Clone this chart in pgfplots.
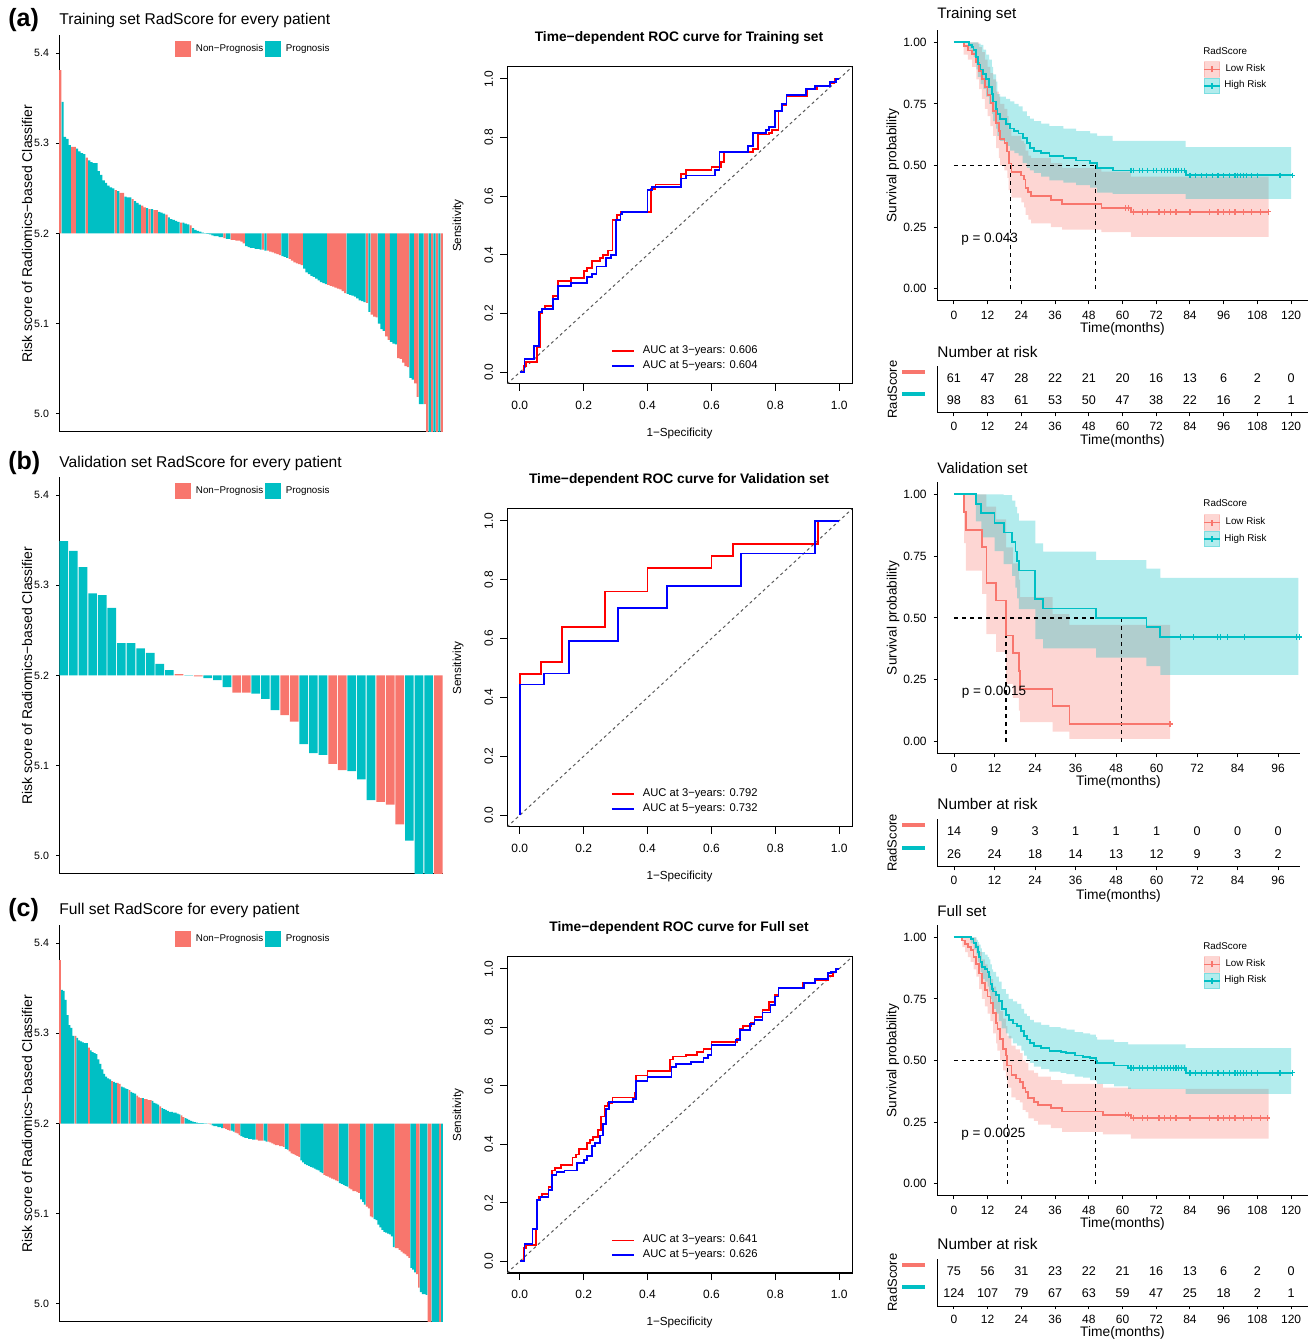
\documentclass[border=0pt]{standalone}
\usepackage{fontspec}
\setmainfont{Liberation Sans}
\usepackage{pgfplots}
\pgfplotsset{compat=1.18}
\usepackage{pgfplotstable}
\usepgfplotslibrary{fillbetween}

\definecolor{kmred}{HTML}{F8766D}
\definecolor{kmteal}{HTML}{00BFC4}
\newcommand{\fs}[1]{\fontsize{#1}{#1}\selectfont}

% ---------- waterfall data: index, score, class (0 non-prognosis, 1 prognosis)
\pgfplotstableread[row sep=\\]{i v c\\
1 5.381 0\\2 5.346 1\\3 5.307 1\\4 5.305 1\\5 5.298 1\\6 5.296 0\\7 5.296 0\\8 5.294 1\\9 5.291 1\\10 5.289 1\\
11 5.288 1\\12 5.284 0\\13 5.281 1\\14 5.279 1\\15 5.278 1\\16 5.278 1\\17 5.269 1\\18 5.265 1\\19 5.259 1\\20 5.256 1\\
21 5.253 1\\22 5.251 1\\23 5.250 1\\24 5.248 0\\25 5.247 1\\26 5.245 0\\27 5.245 0\\28 5.241 1\\29 5.240 1\\30 5.240 1\\
31 5.238 0\\32 5.236 1\\33 5.234 1\\34 5.232 1\\35 5.231 0\\36 5.229 0\\37 5.228 1\\38 5.227 0\\39 5.227 1\\40 5.226 0\\
41 5.226 0\\42 5.224 1\\43 5.223 1\\44 5.222 1\\45 5.221 0\\46 5.218 1\\47 5.216 1\\48 5.215 1\\49 5.214 1\\50 5.213 1\\
51 5.212 0\\52 5.212 1\\53 5.211 1\\54 5.210 1\\55 5.209 0\\56 5.206 1\\57 5.204 1\\58 5.203 1\\59 5.202 1\\60 5.201 1\\
61 5.2005 1\\62 5.1995 1\\63 5.199 1\\64 5.198 1\\65 5.197 1\\66 5.197 1\\67 5.196 1\\68 5.196 1\\69 5.195 0\\70 5.194 1\\
71 5.194 1\\72 5.193 0\\73 5.193 0\\74 5.192 0\\75 5.192 0\\76 5.191 0\\77 5.189 0\\78 5.186 1\\79 5.185 1\\80 5.184 1\\
81 5.184 1\\82 5.183 1\\83 5.183 1\\84 5.182 1\\85 5.182 0\\86 5.181 1\\87 5.181 0\\88 5.180 0\\89 5.179 0\\90 5.178 0\\
91 5.177 0\\92 5.176 0\\93 5.175 1\\94 5.174 1\\95 5.173 1\\96 5.172 0\\97 5.170 0\\98 5.168 0\\99 5.167 0\\100 5.166 0\\
101 5.165 0\\102 5.161 1\\103 5.157 1\\104 5.155 1\\105 5.153 1\\106 5.152 1\\107 5.150 1\\108 5.148 1\\109 5.146 1\\110 5.145 1\\
111 5.144 1\\112 5.143 0\\113 5.142 0\\114 5.141 0\\115 5.140 0\\116 5.139 0\\117 5.138 0\\118 5.136 0\\119 5.134 0\\120 5.133 1\\
121 5.132 1\\122 5.131 1\\123 5.130 1\\124 5.128 1\\125 5.126 1\\126 5.125 1\\127 5.124 1\\128 5.123 0\\129 5.113 1\\130 5.110 0\\
131 5.108 0\\132 5.107 0\\133 5.100 1\\134 5.094 1\\135 5.092 1\\136 5.086 0\\137 5.082 0\\138 5.080 1\\139 5.078 1\\140 5.077 1\\
141 5.062 0\\142 5.061 0\\143 5.057 0\\144 5.053 0\\145 5.052 0\\146 5.040 1\\147 5.038 1\\148 5.034 0\\149 5.019 0\\150 5.011 1\\
151 5.011 1\\152 5.011 0\\153 4.95 0\\154 4.95 1\\155 4.94 0\\156 4.94 1\\157 4.93 0\\158 4.93 1\\159 4.92 0\\
}\wfa

\pgfplotstableread[row sep=\\]{i v c\\
1 5.349 1\\2 5.338 1\\3 5.320 1\\4 5.291 1\\5 5.289 1\\6 5.275 1\\7 5.236 1\\8 5.236 1\\9 5.230 1\\10 5.225 1\\
11 5.213 1\\12 5.206 1\\13 5.2015 0\\14 5.2004 1\\15 5.199 0\\16 5.197 1\\17 5.195 1\\18 5.187 1\\19 5.181 0\\20 5.181 0\\
21 5.180 1\\22 5.174 1\\23 5.1615 1\\24 5.156 0\\25 5.149 0\\26 5.124 1\\27 5.114 1\\28 5.112 1\\29 5.102 0\\30 5.095 0\\
31 5.094 1\\32 5.085 1\\33 5.062 1\\34 5.060 0\\35 5.057 0\\36 5.035 0\\37 5.017 1\\38 4.95 1\\39 4.94 1\\40 4.93 0\\
}\wfb

\pgfplotstableread[row sep=\\]{i v c\\
1 5.381 0\\2 5.348 1\\3 5.347 1\\4 5.337 1\\5 5.320 1\\6 5.309 1\\7 5.306 1\\8 5.297 1\\9 5.297 0\\10 5.295 1\\
11 5.292 1\\12 5.291 1\\13 5.290 1\\14 5.289 1\\15 5.289 1\\16 5.284 0\\17 5.281 1\\18 5.279 1\\19 5.278 1\\20 5.277 1\\
21 5.271 1\\22 5.266 1\\23 5.260 1\\24 5.255 1\\25 5.252 1\\26 5.250 1\\27 5.249 1\\28 5.247 0\\29 5.246 1\\30 5.245 1\\
31 5.245 0\\32 5.244 0\\33 5.241 1\\34 5.240 1\\35 5.239 1\\36 5.238 1\\37 5.237 0\\38 5.235 1\\39 5.234 1\\40 5.233 1\\
41 5.231 0\\42 5.229 0\\43 5.228 0\\44 5.228 1\\45 5.227 0\\46 5.227 0\\47 5.226 0\\48 5.226 0\\49 5.225 1\\50 5.223 1\\
51 5.222 1\\52 5.221 1\\53 5.219 0\\54 5.217 1\\55 5.216 1\\56 5.215 1\\57 5.214 1\\58 5.213 1\\59 5.213 1\\60 5.212 1\\
61 5.212 1\\62 5.211 1\\63 5.210 1\\64 5.209 0\\65 5.207 0\\66 5.206 1\\67 5.205 1\\68 5.204 1\\69 5.203 1\\70 5.202 1\\
71 5.2015 1\\72 5.201 1\\73 5.2005 1\\74 5.2004 1\\75 5.2003 1\\76 5.2002 1\\77 5.2001 1\\78 5.1995 0\\79 5.199 0\\80 5.198 1\\
81 5.197 1\\82 5.197 1\\83 5.196 1\\84 5.196 1\\85 5.195 1\\86 5.195 0\\87 5.194 0\\88 5.193 0\\89 5.192 0\\90 5.192 1\\
91 5.191 1\\92 5.190 0\\93 5.189 0\\94 5.187 0\\95 5.186 1\\96 5.185 1\\97 5.184 1\\98 5.184 1\\99 5.183 1\\100 5.183 1\\
101 5.182 1\\102 5.182 1\\103 5.182 0\\104 5.181 0\\105 5.181 0\\106 5.181 0\\107 5.181 1\\108 5.180 1\\109 5.180 0\\110 5.179 0\\
111 5.178 0\\112 5.177 0\\113 5.176 0\\114 5.176 0\\115 5.175 0\\116 5.175 0\\117 5.174 0\\118 5.172 1\\119 5.171 1\\120 5.169 0\\
121 5.167 0\\122 5.166 0\\123 5.165 0\\124 5.164 0\\125 5.163 0\\126 5.159 1\\127 5.157 1\\128 5.155 1\\129 5.154 1\\130 5.153 1\\
131 5.152 1\\132 5.151 1\\133 5.150 1\\134 5.149 1\\135 5.148 1\\136 5.146 1\\137 5.145 1\\138 5.143 0\\139 5.142 0\\140 5.141 0\\
141 5.140 0\\142 5.139 0\\143 5.138 0\\144 5.137 0\\145 5.136 0\\146 5.134 1\\147 5.133 1\\148 5.132 1\\149 5.131 1\\150 5.130 1\\
151 5.128 0\\152 5.127 0\\153 5.125 0\\154 5.125 0\\155 5.124 0\\156 5.123 0\\157 5.116 1\\158 5.113 1\\159 5.110 1\\160 5.108 0\\
161 5.106 0\\162 5.097 0\\163 5.096 0\\164 5.094 1\\165 5.093 1\\166 5.088 1\\167 5.085 1\\168 5.082 1\\169 5.080 1\\170 5.079 1\\
171 5.078 1\\172 5.077 1\\173 5.075 1\\174 5.063 1\\175 5.062 0\\176 5.062 0\\177 5.060 0\\178 5.058 0\\179 5.056 0\\180 5.055 0\\
181 5.053 0\\182 5.051 0\\183 5.040 1\\184 5.038 1\\185 5.035 1\\186 5.033 0\\187 5.018 0\\188 5.013 1\\189 5.011 1\\190 5.011 1\\
191 5.010 1\\192 4.95 0\\193 4.95 0\\194 4.94 1\\195 4.94 1\\196 4.93 1\\197 4.93 1\\198 4.92 0\\199 4.92 1\\
}\wfc

% ---------- Kaplan-Meier: time, survival, lower, upper
\pgfplotstableread[row sep=\\]{t s lo hi\\
0 1 1 1\\3.5 0.984 0.95 1\\5 0.967 0.93 1\\6.5 0.951 0.90 1\\8 0.918 0.85 1\\9 0.885 0.81 0.98\\
10 0.852 0.77 0.96\\11 0.820 0.73 0.93\\12 0.787 0.70 0.90\\13 0.754 0.66 0.875\\14 0.721 0.62 0.85\\
15 0.672 0.57 0.80\\16 0.639 0.53 0.78\\16.5 0.607 0.50 0.75\\18 0.590 0.48 0.73\\19 0.557 0.45 0.70\\
19.5 0.508 0.40 0.65\\20.5 0.475 0.37 0.62\\24 0.459 0.35 0.60\\25 0.443 0.33 0.59\\25.5 0.410 0.30 0.56\\
26.5 0.393 0.28 0.54\\27.5 0.377 0.265 0.53\\34.5 0.361 0.25 0.51\\38.5 0.344 0.24 0.49\\52.5 0.328 0.23 0.475\\
63 0.312 0.21 0.455\\112 0.312 0.21 0.455\\
}\kmaL
\pgfplotstableread[row sep=\\]{t s lo hi\\
0 1 1 1\\5.5 0.99 0.97 1\\6.5 0.98 0.95 1\\7 0.97 0.94 1\\8 0.94 0.89 1\\8.5 0.91 0.86 0.995\\
9.5 0.89 0.83 0.99\\10.5 0.87 0.81 0.97\\11.5 0.85 0.78 0.95\\12.5 0.82 0.75 0.93\\13.5 0.79 0.71 0.90\\
14 0.76 0.68 0.87\\15 0.73 0.65 0.84\\15.5 0.71 0.62 0.79\\16.5 0.69 0.60 0.78\\18.5 0.67 0.58 0.77\\
20 0.65 0.56 0.76\\21.5 0.64 0.55 0.75\\23 0.63 0.54 0.74\\24.5 0.61 0.51 0.72\\26 0.59 0.49 0.70\\
27 0.57 0.48 0.69\\28.5 0.56 0.47 0.68\\31 0.55 0.455 0.67\\34 0.54 0.44 0.66\\39 0.53 0.43 0.65\\
43.5 0.52 0.42 0.64\\48.5 0.51 0.41 0.63\\51 0.49 0.39 0.62\\56.5 0.48 0.385 0.60\\82.5 0.46 0.365 0.575\\
120 0.46 0.365 0.575\\
}\kmaH
\pgfplotstableread[row sep=\\]{t s lo hi\\
0 1 1 1\\3 0.929 0.803 1\\3.5 0.857 0.692 1\\8.3 0.786 0.598 1\\9.6 0.643 0.435 0.95\\
12.5 0.571 0.363 0.899\\15.4 0.429 0.234 0.786\\17.4 0.357 0.177 0.721\\19.2 0.286 0.125 0.655\\
19.6 0.214 0.079 0.584\\29.2 0.143 0.040 0.516\\34.2 0.071 0.011 0.472\\64 0.071 0.011 0.472\\
}\kmbL
\pgfplotstableread[row sep=\\]{t s lo hi\\
0 1 1 1\\6.5 0.962 0.891 1\\8.1 0.923 0.826 1\\12 0.885 0.770 1\\14.7 0.846 0.718 0.997\\
17.2 0.808 0.670 0.975\\18.2 0.769 0.623 0.949\\18.7 0.731 0.579 0.923\\19.2 0.692 0.536 0.894\\
24.1 0.577 0.415 0.802\\26.4 0.538 0.377 0.768\\42.1 0.500 0.340 0.734\\57 0.462 0.305 0.700\\
61.1 0.423 0.270 0.662\\102 0.423 0.270 0.662\\
}\kmbH
\pgfplotstableread[row sep=\\]{t s lo hi\\
0 1 1 1\\3 0.987 0.96 1\\4 0.973 0.94 1\\5 0.960 0.92 1\\6 0.947 0.90 1\\7 0.920 0.87 1\\
8 0.893 0.84 0.97\\9 0.853 0.79 0.94\\10 0.813 0.75 0.91\\11 0.787 0.72 0.89\\12 0.760 0.69 0.86\\
13 0.733 0.66 0.83\\14 0.693 0.61 0.80\\15 0.653 0.57 0.76\\15.5 0.627 0.54 0.74\\16.5 0.587 0.50 0.70\\
17.5 0.547 0.46 0.67\\18.5 0.520 0.43 0.64\\19 0.480 0.39 0.60\\20.5 0.440 0.35 0.56\\22 0.427 0.34 0.545\\
23.5 0.413 0.33 0.53\\24.5 0.387 0.30 0.50\\25.5 0.373 0.29 0.49\\26.5 0.347 0.265 0.46\\28.5 0.333 0.255 0.45\\
30 0.320 0.24 0.435\\34.5 0.307 0.225 0.42\\38.5 0.293 0.21 0.405\\53 0.280 0.20 0.39\\63 0.267 0.183 0.385\\
112 0.267 0.183 0.385\\
}\kmcL
\pgfplotstableread[row sep=\\]{t s lo hi\\
0 1 1 1\\6 0.992 0.975 1\\7 0.976 0.95 1\\8 0.960 0.93 0.99\\8.5 0.940 0.90 0.98\\9 0.920 0.88 0.97\\
9.5 0.900 0.86 0.955\\10 0.880 0.83 0.94\\11 0.870 0.82 0.93\\12 0.860 0.80 0.92\\12.5 0.840 0.78 0.91\\
13 0.810 0.75 0.89\\13.5 0.790 0.73 0.87\\14 0.780 0.71 0.86\\15 0.765 0.69 0.84\\16 0.740 0.66 0.82\\
17 0.710 0.63 0.79\\18.5 0.685 0.61 0.77\\19.5 0.665 0.59 0.75\\21 0.650 0.57 0.74\\22.5 0.640 0.56 0.73\\
24 0.620 0.54 0.71\\25 0.600 0.52 0.69\\26 0.585 0.505 0.68\\27 0.570 0.49 0.665\\28.5 0.560 0.475 0.655\\
31 0.550 0.465 0.645\\34 0.540 0.455 0.635\\38 0.535 0.45 0.63\\40 0.530 0.445 0.625\\43 0.520 0.435 0.615\\
46 0.515 0.43 0.61\\48.5 0.510 0.42 0.605\\50.5 0.500 0.415 0.595\\51 0.490 0.405 0.585\\57 0.480 0.395 0.575\\
62 0.470 0.385 0.565\\82.5 0.450 0.365 0.55\\120 0.450 0.365 0.55\\
}\kmcH

\pgfplotsset{
  mybase/.style={scale only axis, /pgf/number format/assume math mode=true,
    tick align=outside, axis line style={line width=0.5pt},
    tick style={line width=0.5pt, black}},
  onedec/.style={/pgf/number format/fixed, /pgf/number format/fixed zerofill,
    /pgf/number format/precision=1},
  wf/.style={mybase, width=192pt, height=198.5pt,
    axis x line*=bottom, axis y line*=left, xtick=\empty,
    ymin=4.98, ymax=5.42,
    y coord trafo/.code={\pgfmathparse{##1-5.2}},
    y coord inv trafo/.code={\pgfmathparse{##1+5.2}},
    ytick={5.0,5.1,5.2,5.3,5.4}, scaled y ticks=false,
    yticklabel style={font=\fs{5.3}, onedec},
    major tick length=1.5pt,
    ylabel={Risk score of Radiomics−based Classifier},
    every axis y label/.style={at={(rel axis cs:-0.083,0.5)}, rotate=90, anchor=center, font=\fs{7}},
    legend style={at={(0.302,0.985)}, anchor=north west, draw=none, fill=none,
      inner sep=0pt, legend columns=2, font=\fs{4.9}, nodes={inner sep=1pt},
      /tikz/every odd column/.append style={column sep=1.5pt}}},
  roc/.style={mybase, width=172.5pt, xmin=-0.04, xmax=1.04, ymin=-0.04, ymax=1.04,
    xtick={0,0.2,0.4,0.6,0.8,1}, ytick={0,0.2,0.4,0.6,0.8,1}, tick pos=left,
    major tick length=3.5pt,
    tick label style={font=\fs{6}, onedec},
    xticklabel style={yshift=-1.5pt},
    yticklabel style={rotate=90, anchor=south},
    xlabel={1−Specificity}, ylabel={Sensitivity},
    every axis x label/.style={at={(rel axis cs:0.5,-0.157)}, anchor=center, font=\fs{5.85}},
    every axis y label/.style={at={(rel axis cs:-0.142,0.5)}, rotate=90, anchor=center, font=\fs{5.85}},
    legend style={at={(0.30,0.125)}, anchor=north west, draw=none, fill=none,
      inner sep=0pt, font=\fs{5.6}, nodes={inner sep=0.6pt}, row sep=0.6pt,
      /tikz/every odd column/.append style={column sep=3.5pt}}},
  km/.style={mybase, axis x line*=bottom, axis y line*=left,
    ymin=-0.05, ymax=1.05, ytick={0,0.25,0.5,0.75,1},
    yticklabels={0.00,0.25,0.50,0.75,1.00}, major tick length=1.65pt,
    tick label style={font=\fs{6}},
    xlabel={Time(months)}, ylabel={Survival probability},
    every axis x label/.style={at={(rel axis cs:0.5,-0.102)}, anchor=center, font=\fs{6.9}},
    every axis y label/.style={at={(rel axis cs:-0.119,0.5)}, rotate=90, anchor=center, font=\fs{6.8}},
    legend style={at={(0.717,0.886)}, anchor=north west, draw=none, fill=none,
      inner sep=0pt, font=\fs{4.9}, nodes={inner sep=0.5pt},
      /tikz/every odd column/.append style={column sep=1.5pt}}},
  rt/.style={mybase, axis x line*=bottom, axis y line*=left,
    ymin=0.41, ymax=2.55, ytick={1,2},
    yticklabels={{\textcolor{kmteal}{\rule{11.5pt}{2pt}}},{\textcolor{kmred}{\rule{11.5pt}{2pt}}}},
    ytick style={draw=none}, major tick length=1.65pt,
    tick label style={font=\fs{6}},
    xticklabel style={yshift=0.5pt},
    yticklabel style={anchor=east, inner sep=0pt, xshift=-4pt, yshift=3pt},
    xlabel={Time(months)}, ylabel={RadScore},
    every axis x label/.style={at={(rel axis cs:0.5,-0.6)}, anchor=center, font=\fs{6.9}},
    every axis y label/.style={at={(rel axis cs:-0.121,0.5)}, rotate=90, anchor=center, font=\fs{6.5}}},
  redkey/.style={legend image code/.code={\fill[kmred] (0pt,-3.9pt) rectangle (7.8pt,3.9pt);}},
  tealkey/.style={legend image code/.code={\fill[kmteal] (0pt,-3.9pt) rectangle (7.8pt,3.9pt);}},
  rockey/.style={legend image code/.code={\draw[#1, line width=0.9pt] (0pt,0pt) -- (11pt,0pt);}},
  kmkey/.style={legend image code/.code={\fill[#1, opacity=0.3] (0pt,-3.9pt) rectangle (7.8pt,3.9pt);
      \draw[#1, line width=0.7pt] (0pt,0pt) -- (7.8pt,0pt) (3.9pt,-1.5pt) -- (3.9pt,1.5pt);}},
  band/.style={const plot, draw=none, forget plot},
  curve/.style={const plot, line width=0.9pt},
  cens/.style={only marks, mark=+, mark size=1.4pt, line width=0.6pt},
  med/.style={black, line width=0.55pt, dash pattern=on 2pt off 2pt},
}

\begin{document}
\begin{tikzpicture}

% ================= row (a)
\begin{axis}[wf, at={(29.5pt,454pt)}, anchor=south west, xmin=0.5, xmax=159.5]
\addplot[ybar, bar width=0.9, fill=kmred, draw=none, redkey,
  restrict expr to domain={\thisrow{c}}{0:0}] table[x=i, y=v] {\wfa};
\addlegendentry{Non−Prognosis}
\addplot[ybar, bar width=0.9, fill=kmteal, draw=none, tealkey,
  restrict expr to domain={\thisrow{c}}{1:1}] table[x=i, y=v] {\wfa};
\addlegendentry{Prognosis}
\end{axis}

\begin{axis}[roc, at={(253.5pt,478pt)}, anchor=south west, height=158.5pt]
\addplot[gray!70!black, line width=0.5pt, dash pattern=on 1.5pt off 1.5pt, forget plot]
  coordinates {(-0.04,-0.04) (1.04,1.04)};
\addplot[red, curve, rockey=red] coordinates {(0,0)(0.012,0.02)(0.02,0.035)(0.055,0.085)(0.065,0.2)(0.07,0.215)(0.08,0.225)(0.105,0.26)(0.12,0.31)(0.16,0.32)(0.2,0.345)(0.21,0.355)(0.225,0.38)(0.25,0.39)(0.26,0.4)(0.275,0.415)(0.29,0.52)(0.305,0.535)(0.315,0.545)(0.41,0.625)(0.425,0.64)(0.505,0.675)(0.52,0.69)(0.6,0.7)(0.63,0.715)(0.64,0.75)(0.73,0.76)(0.745,0.81)(0.78,0.815)(0.79,0.825)(0.81,0.89)(0.82,0.91)(0.835,0.94)(0.9,0.965)(0.93,0.975)(0.97,0.985)(0.985,1)(1,1)};
\addlegendentry{AUC at 3−years: 0.606}
\addplot[blue, curve, rockey=blue] coordinates {(0,0)(0.015,0.045)(0.045,0.09)(0.06,0.205)(0.07,0.215)(0.105,0.25)(0.12,0.295)(0.16,0.305)(0.21,0.325)(0.225,0.335)(0.24,0.36)(0.27,0.39)(0.285,0.4)(0.3,0.52)(0.315,0.54)(0.32,0.545)(0.4,0.62)(0.415,0.63)(0.505,0.66)(0.52,0.67)(0.61,0.69)(0.625,0.75)(0.715,0.77)(0.73,0.815)(0.77,0.825)(0.78,0.835)(0.8,0.89)(0.82,0.915)(0.835,0.945)(0.895,0.965)(0.925,0.975)(0.97,0.99)(0.99,1)(1,1)};
\addlegendentry{AUC at 5−years: 0.604}
\end{axis}

\begin{axis}[km, at={(468.5pt,519.5pt)}, anchor=south west, width=185.5pt, height=135.5pt,
  xmin=-6, xmax=126, xtick={0,12,...,120}]
\addlegendimage{kmkey=kmred}\addlegendentry{Low Risk}
\addlegendimage{kmkey=kmteal}\addlegendentry{High Risk}
\addplot[band, name path=aLh] table[x=t, y=hi] {\kmaL};
\addplot[band, name path=aLl] table[x=t, y=lo] {\kmaL};
\addplot[band, name path=aHh] table[x=t, y=hi] {\kmaH};
\addplot[band, name path=aHl] table[x=t, y=lo] {\kmaH};
\addplot[fill=kmred, fill opacity=0.3, draw=none] fill between[of=aLh and aLl];
\addplot[fill=kmteal, fill opacity=0.3, draw=none] fill between[of=aHh and aHl];
\addplot[med] coordinates {(0,0.5) (50.5,0.5)};
\addplot[med] coordinates {(20.2,0) (20.2,0.5)};
\addplot[med] coordinates {(50.5,0) (50.5,0.5)};
\addplot[kmred, curve] table[x=t, y=s] {\kmaL};
\addplot[kmteal, curve] table[x=t, y=s] {\kmaH} -- (axis cs:120.5,0.46);
\addplot[kmred, cens] coordinates {(61,0.328)(62,0.328)(64,0.312)(67,0.312)(69,0.312)(73,0.312)(75,0.312)(77,0.312)(79,0.312)(84,0.312)(91,0.312)(94,0.312)(96,0.312)(98,0.312)(100,0.312)(103,0.312)(106,0.312)(109,0.312)(112,0.312)};
\addplot[kmteal, cens] coordinates {(63,0.48)(64,0.48)(66,0.48)(67,0.48)(69,0.48)(71,0.48)(72,0.48)(74,0.48)(75,0.48)(76,0.48)(77,0.48)(78,0.48)(79,0.48)(80,0.48)(81,0.48)(82,0.48)(84,0.46)(86,0.46)(88,0.46)(90,0.46)(92,0.46)(94,0.46)(96,0.46)(98,0.46)(100,0.46)(101,0.46)(102,0.46)(103,0.46)(104,0.46)(106,0.46)(108,0.46)(116,0.46)(120.5,0.46)};
\node[anchor=west, inner sep=0pt, font=\fs{6.75}] at (axis cs:2.5,0.2) {p = 0.043};
\node[anchor=west, inner sep=0pt, font=\fs{4.9}] at (rel axis cs:0.717,0.922) {RadScore};
\end{axis}

\begin{axis}[rt, at={(468.5pt,463.5pt)}, anchor=south west, width=185.5pt, height=23.5pt,
  xmin=-6, xmax=126, xtick={0,12,...,120}]
\addplot[draw=none, mark=none, nodes near coords, point meta=explicit symbolic,
  nodes near coords style={anchor=center, font=\fs{6.3}, inner sep=0pt}]
  table[x=t, y=r, meta=n, row sep=\\] {t r n\\
  0 2 61\\12 2 47\\24 2 28\\36 2 22\\48 2 21\\60 2 20\\72 2 16\\84 2 13\\96 2 6\\108 2 2\\120 2 0\\
  0 1 98\\12 1 83\\24 1 61\\36 1 53\\48 1 50\\60 1 47\\72 1 38\\84 1 22\\96 1 16\\108 1 2\\120 1 1\\};
\end{axis}

% ================= row (b)
\begin{axis}[wf, at={(29.5pt,233pt)}, anchor=south west, xmin=0.5, xmax=40.5]
\addplot[ybar, bar width=0.9, fill=kmred, draw=none, redkey,
  restrict expr to domain={\thisrow{c}}{0:0}] table[x=i, y=v] {\wfb};
\addlegendentry{Non−Prognosis}
\addplot[ybar, bar width=0.9, fill=kmteal, draw=none, tealkey,
  restrict expr to domain={\thisrow{c}}{1:1}] table[x=i, y=v] {\wfb};
\addlegendentry{Prognosis}
\end{axis}

\begin{axis}[roc, at={(253.5pt,256.5pt)}, anchor=south west, height=159pt]
\addplot[gray!70!black, line width=0.5pt, dash pattern=on 1.5pt off 1.5pt, forget plot]
  coordinates {(-0.04,-0.04) (1.04,1.04)};
\addplot[red, curve, rockey=red] coordinates {(0,0)(0,0.48)(0.067,0.52)(0.133,0.64)(0.267,0.76)(0.4,0.84)(0.6,0.88)(0.667,0.92)(0.933,1)(1,1)};
\addlegendentry{AUC at 3−years: 0.792}
\addplot[blue, curve, rockey=blue] coordinates {(0,0)(0,0.444)(0.077,0.481)(0.154,0.593)(0.308,0.704)(0.462,0.778)(0.692,0.889)(0.923,1)(1,1)};
\addlegendentry{AUC at 5−years: 0.732}
\end{axis}

\begin{axis}[km, at={(468.5pt,293pt)}, anchor=south west, width=181.5pt, height=136pt,
  xmin=-5.04, xmax=102.5, xtick={0,12,...,96},
  every axis y label/.style={at={(rel axis cs:-0.121,0.5)}, rotate=90, anchor=center, font=\fs{6.8}},
  legend style={at={(0.733,0.882)}}]
\addlegendimage{kmkey=kmred}\addlegendentry{Low Risk}
\addlegendimage{kmkey=kmteal}\addlegendentry{High Risk}
\addplot[band, name path=bLh] table[x=t, y=hi] {\kmbL};
\addplot[band, name path=bLl] table[x=t, y=lo] {\kmbL};
\addplot[band, name path=bHh] table[x=t, y=hi] {\kmbH};
\addplot[band, name path=bHl] table[x=t, y=lo] {\kmbH};
\addplot[fill=kmred, fill opacity=0.3, draw=none] fill between[of=bLh and bLl];
\addplot[fill=kmteal, fill opacity=0.3, draw=none] fill between[of=bHh and bHl];
\addplot[med] coordinates {(0,0.5) (49.6,0.5)};
\addplot[med] coordinates {(15.4,0) (15.4,0.5)};
\addplot[med] coordinates {(49.6,0) (49.6,0.5)};
\addplot[kmred, curve] table[x=t, y=s] {\kmbL};
\addplot[kmteal, curve] table[x=t, y=s] {\kmbH} -- (axis cs:102.6,0.423);
\addplot[kmred, cens] coordinates {(64,0.071)};
\addplot[kmteal, cens] coordinates {(67,0.423)(71,0.423)(78,0.423)(79,0.423)(81,0.423)(86,0.423)(101.5,0.423)(102.3,0.423)};
\node[anchor=west, inner sep=0pt, font=\fs{6.75}] at (axis cs:2.2,0.2) {p = 0.0015};
\node[anchor=west, inner sep=0pt, font=\fs{4.9}] at (rel axis cs:0.733,0.923) {RadScore};
\end{axis}

\begin{axis}[rt, at={(468.5pt,236.5pt)}, anchor=south west, width=181.5pt, height=24pt,
  xmin=-5.04, xmax=102.5, xtick={0,12,...,96},
  every axis y label/.style={at={(rel axis cs:-0.124,0.5)}, rotate=90, anchor=center, font=\fs{6.5}}]
\addplot[draw=none, mark=none, nodes near coords, point meta=explicit symbolic,
  nodes near coords style={anchor=center, font=\fs{6.3}, inner sep=0pt}]
  table[x=t, y=r, meta=n, row sep=\\] {t r n\\
  0 2 14\\12 2 9\\24 2 3\\36 2 1\\48 2 1\\60 2 1\\72 2 0\\84 2 0\\96 2 0\\
  0 1 26\\12 1 24\\24 1 18\\36 1 14\\48 1 13\\60 1 12\\72 1 9\\84 1 3\\96 1 2\\};
\end{axis}

% ================= row (c)
\begin{axis}[wf, at={(29.5pt,9pt)}, anchor=south west, xmin=0.5, xmax=199.5]
\addplot[ybar, bar width=0.9, fill=kmred, draw=none, redkey,
  restrict expr to domain={\thisrow{c}}{0:0}] table[x=i, y=v] {\wfc};
\addlegendentry{Non−Prognosis}
\addplot[ybar, bar width=0.9, fill=kmteal, draw=none, tealkey,
  restrict expr to domain={\thisrow{c}}{1:1}] table[x=i, y=v] {\wfc};
\addlegendentry{Prognosis}
\end{axis}

\begin{axis}[roc, at={(253.5pt,33.5pt)}, anchor=south west, height=158pt]
\addplot[gray!70!black, line width=0.5pt, dash pattern=on 1.5pt off 1.5pt, forget plot]
  coordinates {(-0.04,-0.04) (1.04,1.04)};
\addplot[red, curve, rockey=red] coordinates {(0,0)(0.012,0.045)(0.02,0.055)(0.05,0.11)(0.055,0.21)(0.06,0.22)(0.07,0.23)(0.09,0.255)(0.1,0.31)(0.11,0.32)(0.13,0.33)(0.165,0.355)(0.175,0.365)(0.185,0.385)(0.21,0.405)(0.22,0.415)(0.23,0.425)(0.245,0.45)(0.255,0.495)(0.265,0.53)(0.275,0.54)(0.29,0.56)(0.36,0.575)(0.365,0.635)(0.4,0.65)(0.47,0.69)(0.48,0.7)(0.52,0.705)(0.555,0.715)(0.575,0.725)(0.6,0.75)(0.68,0.76)(0.69,0.795)(0.7,0.805)(0.725,0.815)(0.735,0.835)(0.76,0.86)(0.78,0.885)(0.8,0.91)(0.81,0.935)(0.885,0.95)(0.925,0.96)(0.965,0.975)(0.98,0.99)(0.99,1)(1,1)};
\addlegendentry{AUC at 3−years: 0.641}
\addplot[blue, curve, rockey=blue] coordinates {(0,0)(0.015,0.06)(0.04,0.11)(0.055,0.21)(0.065,0.22)(0.09,0.245)(0.1,0.295)(0.115,0.305)(0.14,0.31)(0.18,0.335)(0.2,0.345)(0.21,0.36)(0.225,0.395)(0.235,0.405)(0.25,0.43)(0.26,0.47)(0.27,0.52)(0.28,0.545)(0.355,0.555)(0.365,0.615)(0.4,0.63)(0.475,0.665)(0.49,0.675)(0.535,0.68)(0.575,0.695)(0.59,0.705)(0.6,0.74)(0.675,0.755)(0.69,0.79)(0.72,0.81)(0.735,0.825)(0.76,0.85)(0.785,0.875)(0.8,0.905)(0.81,0.935)(0.89,0.95)(0.925,0.965)(0.965,0.985)(0.975,0.99)(0.99,1)(1,1)};
\addlegendentry{AUC at 5−years: 0.626}
\end{axis}

\begin{axis}[km, at={(468.5pt,72pt)}, anchor=south west, width=185.5pt, height=135.5pt,
  xmin=-6, xmax=126, xtick={0,12,...,120}]
\addlegendimage{kmkey=kmred}\addlegendentry{Low Risk}
\addlegendimage{kmkey=kmteal}\addlegendentry{High Risk}
\addplot[band, name path=cLh] table[x=t, y=hi] {\kmcL};
\addplot[band, name path=cLl] table[x=t, y=lo] {\kmcL};
\addplot[band, name path=cHh] table[x=t, y=hi] {\kmcH};
\addplot[band, name path=cHl] table[x=t, y=lo] {\kmcH};
\addplot[fill=kmred, fill opacity=0.3, draw=none] fill between[of=cLh and cLl];
\addplot[fill=kmteal, fill opacity=0.3, draw=none] fill between[of=cHh and cHl];
\addplot[med] coordinates {(0,0.5) (50.5,0.5)};
\addplot[med] coordinates {(19.2,0) (19.2,0.5)};
\addplot[med] coordinates {(50.5,0) (50.5,0.5)};
\addplot[kmred, curve] table[x=t, y=s] {\kmcL};
\addplot[kmteal, curve] table[x=t, y=s] {\kmcH} -- (axis cs:120.5,0.45);
\addplot[kmred, cens] coordinates {(61,0.28)(62,0.28)(64,0.267)(67,0.267)(69,0.267)(73,0.267)(75,0.267)(77,0.267)(79,0.267)(84,0.267)(91,0.267)(94,0.267)(96,0.267)(98,0.267)(100,0.267)(103,0.267)(106,0.267)(109,0.267)(111.5,0.267)};
\addplot[kmteal, cens] coordinates {(63,0.47)(64,0.47)(66,0.47)(67,0.47)(69,0.47)(71,0.47)(72,0.47)(74,0.47)(75,0.47)(76,0.47)(77,0.47)(78,0.47)(79,0.47)(80,0.47)(81,0.47)(82,0.47)(84,0.45)(86,0.45)(88,0.45)(90,0.45)(92,0.45)(94,0.45)(96,0.45)(98,0.45)(100,0.45)(101,0.45)(102,0.45)(103,0.45)(104,0.45)(106,0.45)(108,0.45)(116,0.45)(120.5,0.45)};
\node[anchor=west, inner sep=0pt, font=\fs{6.75}] at (axis cs:2.5,0.2) {p = 0.0025};
\node[anchor=west, inner sep=0pt, font=\fs{4.9}] at (rel axis cs:0.717,0.922) {RadScore};
\end{axis}

\begin{axis}[rt, at={(468.5pt,17pt)}, anchor=south west, width=185.5pt, height=23.5pt,
  xmin=-6, xmax=126, xtick={0,12,...,120},
  every axis x label/.style={at={(rel axis cs:0.5,-0.57)}, anchor=center, font=\fs{6.9}}]
\addplot[draw=none, mark=none, nodes near coords, point meta=explicit symbolic,
  nodes near coords style={anchor=center, font=\fs{6.3}, inner sep=0pt}]
  table[x=t, y=r, meta=n, row sep=\\] {t r n\\
  0 2 75\\12 2 56\\24 2 31\\36 2 23\\48 2 22\\60 2 21\\72 2 16\\84 2 13\\96 2 6\\108 2 2\\120 2 0\\
  0 1 124\\12 1 107\\24 1 79\\36 1 67\\48 1 63\\60 1 59\\72 1 47\\84 1 25\\96 1 18\\108 1 2\\120 1 1\\};
\end{axis}

% ================= titles and panel labels
\node[anchor=west, inner sep=0pt, font=\bfseries\fs{12.5}] at (4pt,660pt) {(a)};
\node[anchor=west, inner sep=0pt, font=\bfseries\fs{12.5}] at (4pt,438.5pt) {(b)};
\node[anchor=west, inner sep=0pt, font=\bfseries\fs{12.5}] at (4pt,215pt) {(c)};
\node[anchor=west, inner sep=0pt, font=\fs{7.8}] at (29.5pt,660pt) {Training set RadScore for every patient};
\node[anchor=west, inner sep=0pt, font=\fs{7.8}] at (29.5pt,438.5pt) {Validation set RadScore for every patient};
\node[anchor=west, inner sep=0pt, font=\fs{7.8}] at (29.5pt,215pt) {Full set RadScore for every patient};
\node[inner sep=0pt, font=\bfseries\fs{6.9}] at (339.5pt,651pt) {Time−dependent ROC curve for Training set};
\node[inner sep=0pt, font=\bfseries\fs{6.9}] at (339.5pt,430pt) {Time−dependent ROC curve for Validation set};
\node[inner sep=0pt, font=\bfseries\fs{6.9}] at (339.5pt,206pt) {Time−dependent ROC curve for Full set};
\node[anchor=west, inner sep=0pt, font=\fs{7.6}] at (468.5pt,662.5pt) {Training set};
\node[anchor=west, inner sep=0pt, font=\fs{7.6}] at (468.5pt,436pt) {Validation set};
\node[anchor=west, inner sep=0pt, font=\fs{7.6}] at (468.5pt,214.5pt) {Full set};
\node[anchor=west, inner sep=0pt, font=\fs{7.7}] at (468.5pt,494pt) {Number at risk};
\node[anchor=west, inner sep=0pt, font=\fs{7.7}] at (468.5pt,268pt) {Number at risk};
\node[anchor=west, inner sep=0pt, font=\fs{7.7}] at (468.5pt,48pt) {Number at risk};

\pgfresetboundingbox
\path (0pt,0pt) rectangle (658pt,670pt);
\end{tikzpicture}
\end{document}
